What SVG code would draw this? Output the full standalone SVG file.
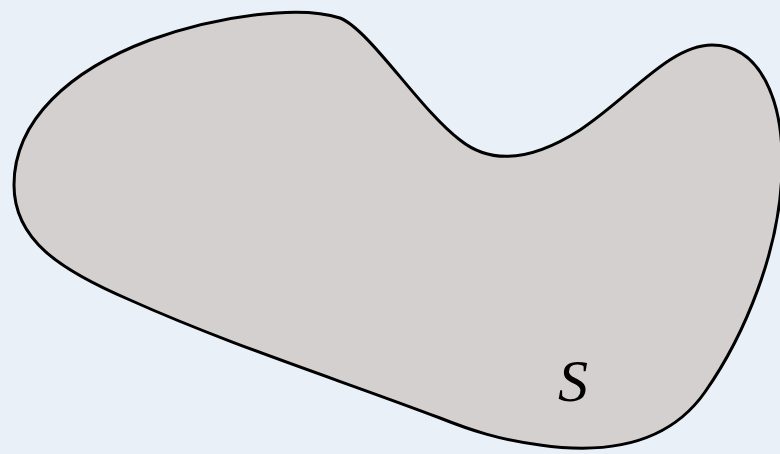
<svg xmlns="http://www.w3.org/2000/svg" width="780" height="454" viewBox="0 0 780 454">
<style>
.bg{fill:#e9f0f7}
.blob{fill:#d4d0cf;stroke:#000;stroke-width:3;stroke-linejoin:round}
.lbl{font-family:"Liberation Serif",serif;font-style:italic;font-size:60px;fill:#000}
</style>
<rect class="bg" x="0" y="0" width="780" height="454"/>
<g id="set-S">
<path class="blob" d="M 14 185 C 14 120, 70 70, 150 40 C 220 15, 300 5, 340 18 C 370 30, 420 110, 460 140 C 490 164, 530 162, 580 130 C 630 97, 670 45, 712 45 C 760 45, 784 100, 782 170 C 780 250, 745 335, 705 392 C 670 442, 610 455, 540 445 C 500 440, 470 430, 440 418 C 340 380, 230 345, 130 300 C 60 270, 14 240, 14 185 Z"/>
<text class="lbl" x="558" y="401">S</text>
</g>
</svg>
